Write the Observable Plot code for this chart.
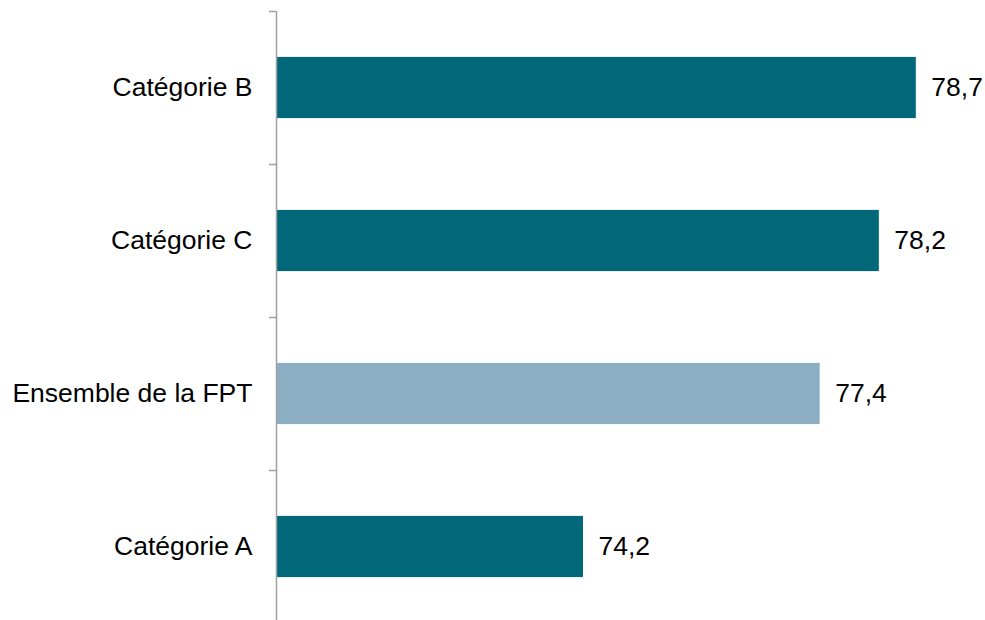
<!DOCTYPE html>
<html>
<head>
<meta charset="utf-8">
<script src="https://cdn.jsdelivr.net/npm/d3@7"></script>
<script src="https://cdn.jsdelivr.net/npm/@observablehq/plot@0.6"></script>
<style>
  html, body { margin: 0; padding: 0; background: #fff; }
  #chart { width: 985px; height: 620px; overflow: hidden; }
</style>
</head>
<body>
<div id="chart"></div>
<script>
const categories = ["Catégorie B", "Catégorie C", "Ensemble de la FPT", "Catégorie A"];
const values = [78.7, 78.2, 77.4, 74.2];
const highlighted = [false, false, true, false];

const dark = "#006878";
const light = "#8BAEC3";
const axisGray = "#A0A0A0";
const fontSize = 26.5;

const data = categories.map((c, i) => ({ cat: c, idx: i, value: values[i], hl: highlighted[i] }));
const boundaries = d3.range(categories.length + 1).map(i => i - 0.5);

const chart = Plot.plot({
  width: 985,
  height: 620,
  marginLeft: 276,
  marginRight: 10,
  marginTop: 11,
  marginBottom: -3,
  style: { fontFamily: "'Liberation Sans', Arial, sans-serif", fontSize: fontSize + "px", color: "#000", background: "#fff" },
  x: { domain: [70.05, 79.5], axis: null },
  y: { domain: [-0.5, categories.length - 0.5], reverse: true, axis: null },
  marks: [
    Plot.rectX(data, {
      x1: 70.05,
      x2: "value",
      y1: d => d.idx - 0.2,
      y2: d => d.idx + 0.2,
      fill: d => d.hl ? light : dark
    }),
    Plot.text(data, {
      x: "value",
      y: "idx",
      text: d => d.value.toFixed(1).replace(".", ","),
      dx: 15,
      textAnchor: "start",
      fontSize: fontSize,
      fill: "#000"
    }),
    Plot.axisY(boundaries, { tickSize: 7, tickFormat: () => "", label: null, stroke: axisGray, strokeWidth: 1.5, strokeOpacity: 1 }),
    Plot.axisY(data.map(d => d.idx), {
      tickSize: 0,
      tickPadding: 24,
      tickFormat: i => categories[i],
      label: null,
      fontSize: fontSize,
      fill: "#000"
    }),
    Plot.ruleX([70.05], { stroke: axisGray, strokeWidth: 1.5 })
  ]
});
document.getElementById("chart").appendChild(chart);
</script>
</body>
</html>
